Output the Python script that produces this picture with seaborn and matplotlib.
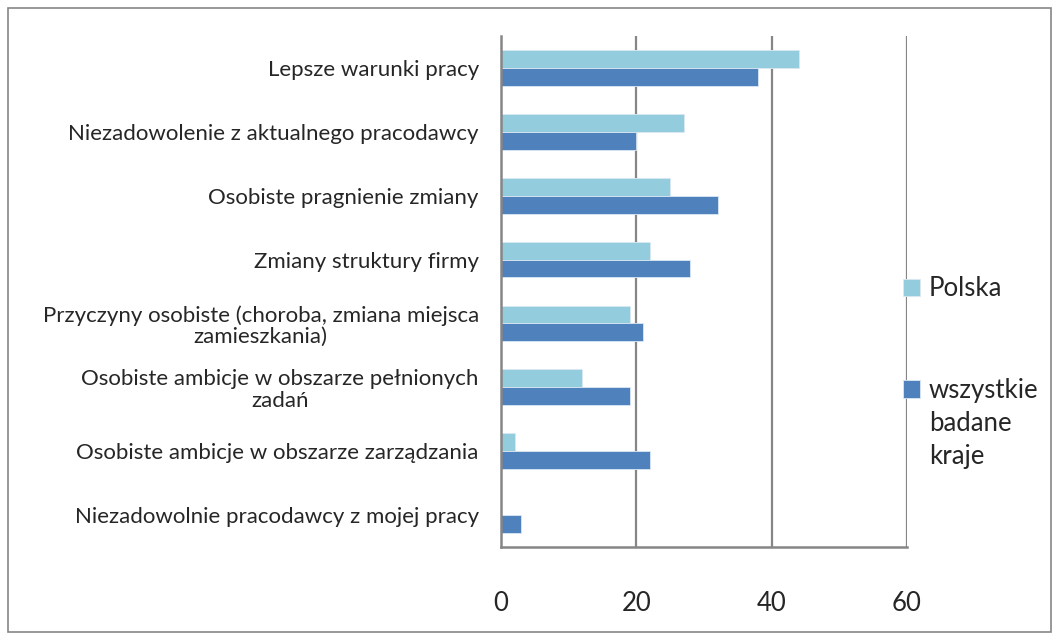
import pandas as pd
import seaborn as sns
import matplotlib.pyplot as plt
from matplotlib.patches import Rectangle
from matplotlib.legend_handler import HandlerPatch

# Data
categories = [
    "Lepsze warunki pracy",
    "Niezadowolenie z aktualnego pracodawcy",
    "Osobiste pragnienie zmiany",
    "Zmiany struktury firmy",
    "Przyczyny osobiste (choroba, zmiana miejsca\nzamieszkania)",
    "Osobiste ambicje w obszarze pełnionych\nzadań",
    "Osobiste ambicje w obszarze zarządzania",
    "Niezadowolnie pracodawcy z mojej pracy",
]
polska = [44, 27, 25, 22, 19, 12, 2, 0]
wszystkie = [38, 20, 32, 28, 21, 19, 22, 3]
series_names = ["Polska", "wszystkie\nbadane\nkraje"]
x_ticks = [0, 20, 40, 60]

# Build long-form table for seaborn
data = pd.DataFrame({
    "kategoria": categories * 2,
    "wartosc": polska + wszystkie,
    "seria": [series_names[0]] * len(categories) + [series_names[1]] * len(categories),
})

sns.set_style("white")
plt.rcParams['font.family'] = ['Lato', 'DejaVu Sans']

grey = "#868686"
fig = plt.figure(figsize=(10.6, 6.4), dpi=100)
ax = fig.add_axes([501 / 1060, 1 - 547 / 640, 406 / 1060, 511 / 640])

sns.barplot(data=data, y="kategoria", x="wartosc", hue="seria", orient="h",
            palette=["#93CDDD", "#4F81BD"], saturation=1, width=0.56, ax=ax,
            edgecolor="#dbe8f3", linewidth=0.6)

ax.set_xlim(0, 60)
ax.set_ylim(len(categories) - 0.5, -0.5)
ax.set_xlabel("")
ax.set_ylabel("")

# vertical gridlines
ax.set_xticks(x_ticks)
for v in x_ticks[1:]:
    ax.axvline(v, color=grey, lw=1.6, zorder=0)

for side in ["top", "right"]:
    ax.spines[side].set_visible(False)
for side in ["left", "bottom"]:
    ax.spines[side].set_color(grey)
    ax.spines[side].set_linewidth(1.8)

ax.tick_params(axis="x", direction="out", length=5, width=1.5, color=grey,
               pad=27, labelsize=18.5)
ax.tick_params(axis="y", which="major", length=0, pad=16, labelsize=16)
ax.set_yticks([i - 0.5 for i in range(len(categories) + 1)], minor=True)
ax.tick_params(axis="y", which="minor", direction="out", length=5, width=1.5, color=grey)
for lbl in ax.get_yticklabels():
    lbl.set_multialignment("center")
    lbl.set_linespacing(1.1)


# legend marker aligned with the first line of a multi-line label
def first_line_patch(legend, orig_handle, xdescent, ydescent, width, height, fontsize):
    return Rectangle((-xdescent, -ydescent + 25.5), width, height)


ax.legend_.remove()
handles, labels = ax.get_legend_handles_labels()
leg = fig.legend(handles, labels, loc="center left", bbox_to_anchor=(0.830, 0.418),
                 frameon=False, fontsize=18.5, handlelength=0.66, handleheight=0.66,
                 handletextpad=0.35, labelspacing=3.0,
                 handler_map={handles[1]: HandlerPatch(patch_func=first_line_patch)})
for t in leg.get_texts():
    t.set_linespacing(1.38)

# outer frame
fig.patches.append(Rectangle((8 / 1060, 8 / 640), 1043 / 1060, 624 / 640,
                             transform=fig.transFigure, fill=False,
                             edgecolor=grey, lw=1.2))

fig.savefig("out.png", dpi=100)
